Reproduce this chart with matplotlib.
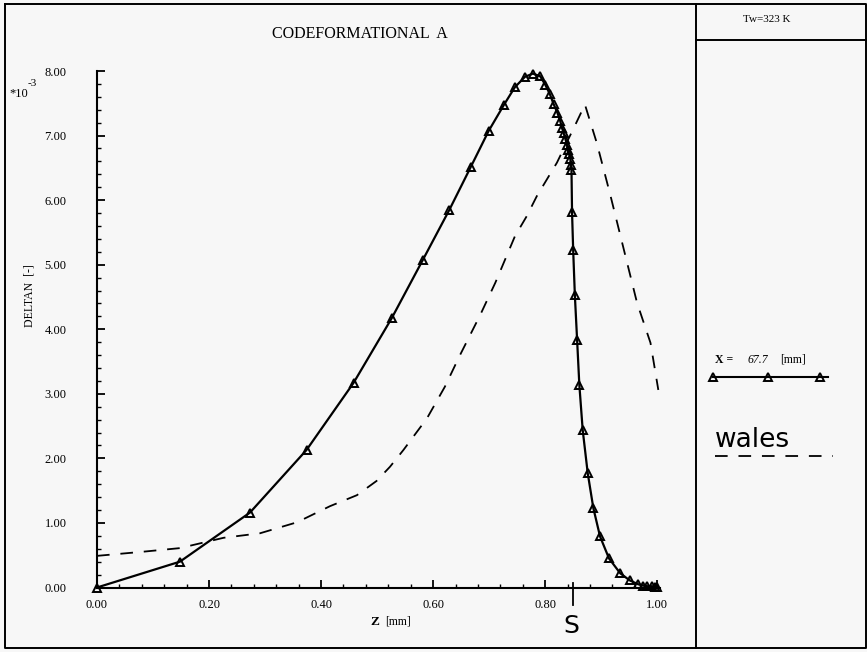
import matplotlib
matplotlib.use("Agg")
import matplotlib.pyplot as plt
from matplotlib.lines import Line2D
from matplotlib.ticker import MultipleLocator, FormatStrFormatter

# данные (DELTAN в единицах 1e-3)
z_solid = [0.0, 0.148, 0.273, 0.374, 0.458, 0.526, 0.582, 0.629, 0.667, 0.699,
           0.726, 0.746, 0.764, 0.778, 0.791, 0.800, 0.808, 0.815, 0.822, 0.827,
           0.830, 0.833, 0.836, 0.839, 0.840, 0.843, 0.845, 0.846, 0.847, 0.848,
           0.850, 0.853, 0.857, 0.861, 0.867, 0.876, 0.886, 0.898, 0.914, 0.934,
           0.951, 0.966, 0.975, 0.982, 0.990, 0.996, 1.000]
d_solid = [0.0, 0.40, 1.16, 2.13, 3.17, 4.17, 5.08, 5.85, 6.51, 7.07,
           7.47, 7.75, 7.91, 7.96, 7.92, 7.79, 7.65, 7.49, 7.35, 7.22,
           7.12, 7.04, 6.95, 6.86, 6.78, 6.71, 6.63, 6.55, 6.47, 5.81,
           5.23, 4.53, 3.84, 3.14, 2.44, 1.77, 1.23, 0.79, 0.45, 0.22,
           0.11, 0.05, 0.03, 0.02, 0.02, 0.01, 0.01]

z_wales = [0.0, 0.077, 0.148, 0.226, 0.291, 0.357, 0.416, 0.464, 0.499, 0.523,
           0.547, 0.589, 0.621, 0.648, 0.684, 0.711, 0.746, 0.767, 0.785, 0.803,
           0.821, 0.854, 0.871, 0.892, 0.916, 0.964, 0.988, 1.002]
d_wales = [0.49, 0.55, 0.61, 0.77, 0.84, 1.01, 1.26, 1.43, 1.65, 1.87,
           2.13, 2.62, 3.11, 3.60, 4.22, 4.72, 5.44, 5.75, 6.06, 6.32,
           6.58, 7.17, 7.48, 6.89, 6.09, 4.41, 3.79, 3.06]

x_ticks = [0.0, 0.2, 0.4, 0.6, 0.8, 1.0]
y_ticks = [0, 1, 2, 3, 4, 5, 6, 7, 8]

W, H = 867, 652
serif = "Liberation Serif"


def fx(px):
    return px / W


def fy(py):
    return 1 - py / H


fig = plt.figure(figsize=(W / 100, H / 100), dpi=100, facecolor="#f7f7f7")
ax = fig.add_axes([fx(97), fy(587.5), 563 / W, (587.5 - 71) / H])
ax.set_facecolor("#f7f7f7")

ax.plot(z_solid, d_solid, color="black", lw=1.6, marker="^", ms=6,
        mfc="none", mec="black", mew=1.4, clip_on=False)
ax.plot(z_wales, d_wales, color="black", lw=1.3, dashes=(7, 6), clip_on=False)

ax.set_xlim(0, 1.005)
ax.set_ylim(0, 8)
for s in ["top", "right"]:
    ax.spines[s].set_visible(False)
for s in ["left", "bottom"]:
    ax.spines[s].set_linewidth(1.5)

ax.set_xticks(x_ticks)
ax.set_yticks(y_ticks)
ax.xaxis.set_minor_locator(MultipleLocator(0.04))
ax.yaxis.set_minor_locator(MultipleLocator(0.2))
ax.xaxis.set_major_formatter(FormatStrFormatter("%.2f"))
ax.yaxis.set_major_formatter(FormatStrFormatter("%.2f"))
ax.tick_params(which="major", direction="in", length=6, width=1.3,
               labelsize=9, labelfontfamily=serif)
ax.tick_params(which="minor", direction="in", length=3, width=1.0)
ax.tick_params(axis="y", which="major", pad=22)
ax.tick_params(axis="x", which="major", pad=8.5)

# подписи
fig.text(fx(360), fy(34), "CODEFORMATIONAL  A", family=serif, fontsize=11.5,
         ha="center", va="center")
fig.text(fx(30), fy(296), "DELTAN  [-]", family=serif, fontsize=8.5,
         rotation=90, ha="center", va="center")
fig.text(fx(9), fy(94), "*10", family=serif, fontsize=9, ha="left", va="center")
fig.text(fx(28), fy(84), "-3", family=serif, fontsize=8, ha="left", va="center")
fig.text(fx(375), fy(622), "Z", family=serif, fontsize=9.5, weight="bold",
         ha="center", va="center")
fig.text(fx(385), fy(622), "[mm]", family=serif, fontsize=8.5,
         ha="left", va="center")

# отметка S
fig.add_artist(Line2D([fx(572.7), fx(572.7)], [fy(583), fy(605)],
                      color="black", lw=1.3))
fig.text(fx(571.5), fy(626), "S", fontsize=18, ha="center", va="center")

# рамки
frame = dict(color="black", lw=1.4)
fig.add_artist(Line2D([fx(5), fx(866), fx(866), fx(5), fx(5)],
                      [fy(4), fy(4), fy(648), fy(648), fy(4)], **frame))
fig.add_artist(Line2D([fx(696), fx(696)], [fy(4), fy(648)], **frame))
fig.add_artist(Line2D([fx(696), fx(866)], [fy(40), fy(40)], **frame))

fig.text(fx(743), fy(20), "Tw=323 K", family=serif, fontsize=8,
         ha="left", va="center")

# легенда
fig.text(fx(715), fy(360), "X =", family=serif, fontsize=8.5, weight="bold",
         ha="left", va="center")
fig.text(fx(748), fy(360), "67.7", family=serif, fontsize=8.5, style="italic",
         ha="left", va="center")
fig.text(fx(780), fy(360), "[mm]", family=serif, fontsize=8.5,
         ha="left", va="center")
fig.add_artist(Line2D([fx(713), fx(828)], [fy(377), fy(377)], color="black",
                      lw=1.5))
fig.add_artist(Line2D([fx(713), fx(768), fx(820)], [fy(377)] * 3, ls="none",
                      marker="^", ms=6, mfc="none", mec="black", mew=1.4))

fig.text(fx(715), fy(447), "wales", fontsize=19, ha="left", va="baseline")
fig.add_artist(Line2D([fx(715), fx(833)], [fy(456), fy(456)], color="black",
                      lw=1.3, dashes=(7, 6)))

fig.savefig("out.png", dpi=100, facecolor=fig.get_facecolor())
